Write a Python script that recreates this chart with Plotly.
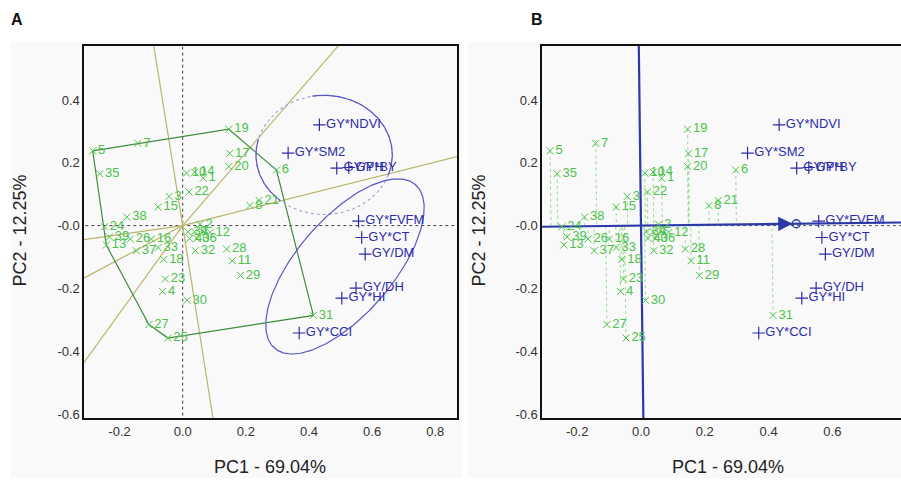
import numpy as np
import plotly.graph_objects as go

# ---------------- data ----------------
geno_labels = [str(i) for i in range(1, 41)]
geno_pc1 = [0.065, 0.055, -0.043, -0.064, -0.285, 0.297, -0.142, 0.213, 0.038, 0.012,
            0.157, 0.087, -0.242, 0.038, -0.078, -0.099, 0.149, -0.060, 0.146, 0.146,
            0.242, 0.020, -0.055, -0.248, -0.047, -0.166, -0.107, 0.139, 0.183, 0.014,
            0.414, 0.040, -0.078, 0.017, -0.263, 0.045, -0.147, -0.177, -0.232, 0.022]
geno_pc2 = [0.151, 0.004, 0.093, -0.210, 0.238, 0.177, 0.262, 0.064, -0.019, 0.167,
            -0.112, -0.022, -0.062, 0.170, 0.059, -0.043, 0.230, -0.108, 0.307, 0.188,
            0.080, 0.107, -0.170, -0.004, -0.358, -0.043, -0.315, -0.075, -0.159, -0.238,
            -0.286, -0.080, -0.070, -0.020, 0.165, -0.041, -0.080, 0.027, -0.036, -0.041]

trait_labels = ["GY*NDVI", "GY*SM2", "GY/PH", "GY*BY", "GY*FVFM", "GY*CT",
                "GY/DM", "GY/DH", "GY*HI", "GY*CCI"]
trait_pc1 = [0.433, 0.334, 0.488, 0.526, 0.557, 0.567, 0.578, 0.549, 0.504, 0.369]
trait_pc2 = [0.321, 0.231, 0.183, 0.185, 0.014, -0.038, -0.091, -0.199, -0.231, -0.342]

polygon_labels = ["5", "19", "6", "31", "25", "27", "13"]
aec_slope = 0.012        # average-environment axis direction (PC2 per PC1)
aec_point = 0.487        # average environment position along PC1

x_ticks = [-0.2, 0.0, 0.2, 0.4, 0.6, 0.8]
x_tick_text = ["-0.2", "0.0", "0.2", "0.4", "0.6", "0.8"]
y_ticks = [0.4, 0.2, 0.0, -0.2, -0.4, -0.6]
y_tick_text = ["0.4", "0.2", "-0.0", "-0.2", "-0.4", "-0.6"]

# ---------------- styling ----------------
W, H = 901, 481
GREEN = "#4cc24c"
GREEN_LINE = "#3f8c3f"
OLIVE = "#bab56c"
BLUE = "#2c2ca8"
BLUE_LINE = "#2b3aa8"
FONT = "Liberation Sans, Arial, sans-serif"

gx = np.array(geno_pc1)
gy = np.array(geno_pc2)

fig = go.Figure()

def px(x):
    return x / W

def py(y):
    return 1 - y / H

# ---------- Panel A ----------
fig.add_trace(go.Scatter(x=[0, 0], y=[-2, 2], mode="lines", xaxis="x", yaxis="y",
                         line=dict(color="#444", width=1, dash="dot"), hoverinfo="skip", showlegend=False))
fig.add_trace(go.Scatter(x=[-2, 2], y=[0, 0], mode="lines", xaxis="x", yaxis="y",
                         line=dict(color="#444", width=1, dash="dot"), hoverinfo="skip", showlegend=False))

idx = [geno_labels.index(l) for l in polygon_labels]
vx = gx[idx]
vy = gy[idx]
n = len(idx)
for i in range(n):
    p = np.array([vx[i], vy[i]])
    q = np.array([vx[(i + 1) % n], vy[(i + 1) % n]])
    d = q - p
    nrm = np.array([d[1], -d[0]])
    m = (p + q) / 2
    if nrm @ m < 0:
        nrm = -nrm
    nrm = nrm / np.linalg.norm(nrm) * 3
    fig.add_trace(go.Scatter(x=[0, nrm[0]], y=[0, nrm[1]], mode="lines", xaxis="x", yaxis="y",
                             line=dict(color=OLIVE, width=1.2), hoverinfo="skip", showlegend=False))
fig.add_trace(go.Scatter(x=list(vx) + [vx[0]], y=list(vy) + [vy[0]], mode="lines", xaxis="x", yaxis="y",
                         line=dict(color=GREEN_LINE, width=1.2), hoverinfo="skip", showlegend=False))

cx, cy, rx, ry = 0.448, 0.225, 0.216, 0.19
t = np.linspace(0, 2 * np.pi, 300)
fig.add_trace(go.Scatter(x=cx + rx * np.cos(t), y=cy + ry * np.sin(t), mode="lines", xaxis="x", yaxis="y",
                         line=dict(color="#a0a0dc", width=1.1, dash="dot"), hoverinfo="skip", showlegend=False))
for a0, a1 in [(-20, 100), (165, 230)]:
    tt = np.radians(np.linspace(a0, a1, 120))
    fig.add_trace(go.Scatter(x=cx + rx * np.cos(tt), y=cy + ry * np.sin(tt), mode="lines", xaxis="x", yaxis="y",
                             line=dict(color="#5656c8", width=1.2), hoverinfo="skip", showlegend=False))

ex, ey, ea, eb, ang = 0.514, -0.130, 0.343, 0.152, np.radians(49.5)
xe = ex + ea * np.cos(t) * np.cos(ang) - eb * np.sin(t) * np.sin(ang)
ye = ey + ea * np.cos(t) * np.sin(ang) + eb * np.sin(t) * np.cos(ang)
fig.add_trace(go.Scatter(x=xe, y=ye, mode="lines", xaxis="x", yaxis="y",
                         line=dict(color="#5656c8", width=1.2), hoverinfo="skip", showlegend=False))

# ---------- Panel B ----------
fig.add_trace(go.Scatter(x=[0, 2], y=[0, 0], mode="lines", xaxis="x2", yaxis="y2",
                         line=dict(color="#555", width=1, dash="dot"), hoverinfo="skip", showlegend=False))
u = np.array([1.0, aec_slope])
u = u / np.linalg.norm(u)
for xi, yi in zip(gx, gy):
    s = xi * u[0] + yi * u[1]
    fig.add_trace(go.Scatter(x=[xi, s * u[0]], y=[yi, s * u[1]], mode="lines", xaxis="x2", yaxis="y2",
                             line=dict(color="#96dc96", width=1, dash="dot"), hoverinfo="skip", showlegend=False))
fig.add_trace(go.Scatter(x=[-2 * u[0], 2 * u[0]], y=[-2 * u[1], 2 * u[1]], mode="lines", xaxis="x2", yaxis="y2",
                         line=dict(color=BLUE_LINE, width=2.2), hoverinfo="skip", showlegend=False))
fig.add_trace(go.Scatter(x=[2 * u[1], -2 * u[1]], y=[-2 * u[0], 2 * u[0]], mode="lines", xaxis="x2", yaxis="y2",
                         line=dict(color=BLUE_LINE, width=2.2), hoverinfo="skip", showlegend=False))
fig.add_trace(go.Scatter(x=[aec_point * u[0]], y=[aec_point * u[1]], mode="markers", xaxis="x2", yaxis="y2",
                         marker=dict(symbol="circle-open", size=8, color=BLUE_LINE, line=dict(width=1.3)),
                         hoverinfo="skip", showlegend=False))
fig.add_annotation(x=(aec_point - 0.012) * u[0], y=(aec_point - 0.012) * u[1],
                   ax=(aec_point - 0.10) * u[0], ay=(aec_point - 0.10) * u[1],
                   xref="x2", yref="y2", axref="x2", ayref="y2", showarrow=True,
                   arrowhead=2, arrowsize=1.3, arrowwidth=2.2, arrowcolor=BLUE_LINE, text="")

# ---------- points (both panels) ----------
for xa, ya in [("x", "y"), ("x2", "y2")]:
    fig.add_trace(go.Scatter(x=geno_pc1, y=geno_pc2, mode="markers+text", xaxis=xa, yaxis=ya,
                             text=geno_labels, textposition="middle right",
                             textfont=dict(family=FONT, size=13, color=GREEN),
                             marker=dict(symbol="x-thin-open", size=7, color=GREEN, line=dict(width=1, color=GREEN)),
                             hoverinfo="skip", showlegend=False, cliponaxis=True))
    fig.add_trace(go.Scatter(x=trait_pc1, y=trait_pc2, mode="markers+text", xaxis=xa, yaxis=ya,
                             text=trait_labels, textposition="middle right",
                             textfont=dict(family=FONT, size=13, color=BLUE),
                             marker=dict(symbol="cross-thin-open", size=9, color=BLUE, line=dict(width=1.2, color=BLUE)),
                             hoverinfo="skip", showlegend=False, cliponaxis=True))

# ---------- layout ----------
yrange = [(227 - 421) / 316, (227 - 46) / 316]
ydom = [py(421), py(46)]
axis_common = dict(showgrid=False, zeroline=False, showline=True, linecolor="#111", linewidth=1.6,
                   ticks="", tickfont=dict(family=FONT, size=13, color="#333"))

fig.update_layout(
    width=W, height=H, margin=dict(l=0, r=0, t=0, b=0),
    paper_bgcolor="white", plot_bgcolor="#fdfdfd", hovermode=False,
    xaxis=dict(domain=[px(84), px(457)], range=[(84 - 182.7) / 315.7, (457 - 182.7) / 315.7],
               tickvals=x_ticks, ticktext=x_tick_text, anchor="y", mirror=True, **axis_common),
    yaxis=dict(domain=ydom, range=yrange, tickvals=y_ticks, ticktext=y_tick_text, anchor="x",
               mirror=True, **axis_common),
    xaxis2=dict(domain=[px(542), 1.0], range=[(542 - 641) / 319, (901 - 641) / 319],
                tickvals=x_ticks, ticktext=x_tick_text, anchor="y2", mirror=True, **axis_common),
    yaxis2=dict(domain=ydom, range=yrange, tickvals=y_ticks, ticktext=y_tick_text, anchor="x2",
                mirror=False, **axis_common),
    shapes=[
        dict(type="rect", xref="paper", yref="paper", x0=px(11), x1=px(462), y0=0, y1=py(42),
             fillcolor="#f9f9f9", line=dict(width=0), layer="below"),
        dict(type="rect", xref="paper", yref="paper", x0=px(468), x1=1.0, y0=0, y1=py(42),
             fillcolor="#f9f9f9", line=dict(width=0), layer="below"),
    ],
)

ann_font = dict(family=FONT, size=18, color="#222")
for xc, txt in [(270, "PC1 - 69.04%"), (728, "PC1 - 69.04%")]:
    fig.add_annotation(x=px(xc), y=py(470), xref="paper", yref="paper", text=txt, showarrow=False,
                       font=ann_font, xanchor="center", yanchor="middle")
for xc in [20, 479]:
    fig.add_annotation(x=px(xc), y=py(232), xref="paper", yref="paper", text="PC2 - 12.25%", showarrow=False,
                       font=ann_font, textangle=-90, xanchor="center", yanchor="middle")
for xc, txt in [(17, "A"), (537, "B")]:
    fig.add_annotation(x=px(xc), y=py(20), xref="paper", yref="paper", text="<b>" + txt + "</b>",
                       showarrow=False, font=dict(family=FONT, size=16, color="#111"),
                       xanchor="center", yanchor="middle")

fig.write_html("out.html", config={"displayModeBar": False, "staticPlot": True},
               post_script="document.body.style.margin='0';document.body.style.overflow='hidden';")
